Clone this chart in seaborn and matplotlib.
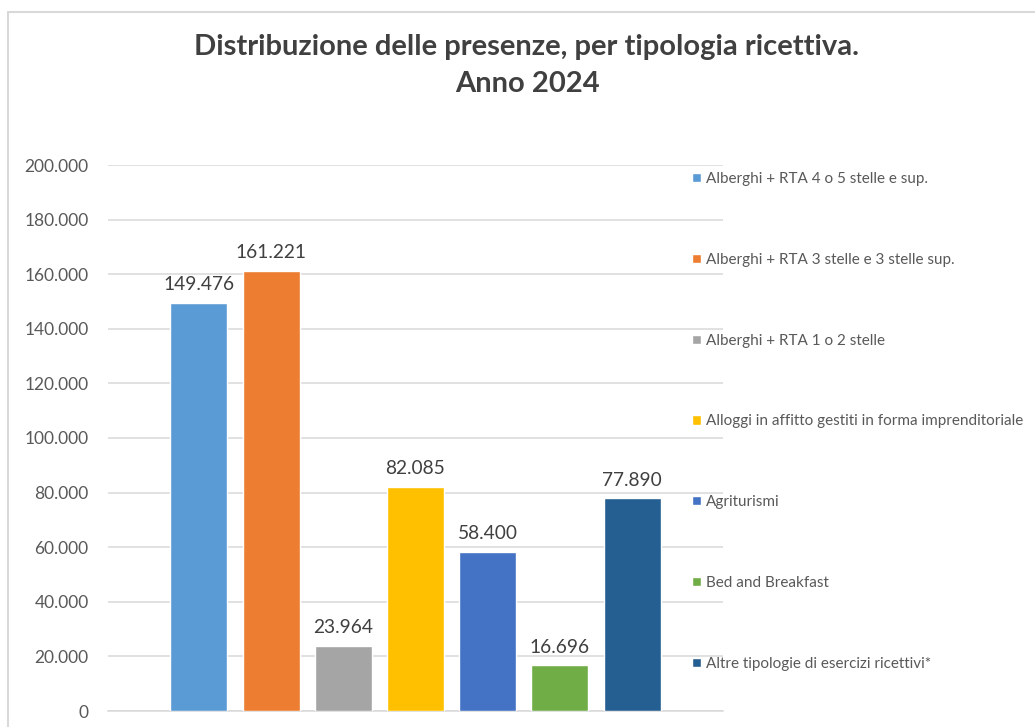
import matplotlib
matplotlib.use("Agg")
import matplotlib.pyplot as plt
from matplotlib.patches import Rectangle
import pandas as pd
import seaborn as sns

# dati
tipologie = [
    "Alberghi + RTA 4 o 5 stelle e sup.",
    "Alberghi + RTA 3 stelle e 3 stelle sup.",
    "Alberghi + RTA 1 o 2 stelle",
    "Alloggi in affitto gestiti in forma imprenditoriale",
    "Agriturismi",
    "Bed and Breakfast",
    "Altre tipologie di esercizi ricettivi*",
]
presenze = [149476, 161221, 23964, 82085, 58400, 16696, 77890]
colori = ["#5B9BD5", "#ED7D31", "#A5A5A5", "#FFC000", "#4472C4", "#70AD47", "#255E91"]
y_ticks = [0, 20000, 40000, 60000, 80000, 100000, 120000, 140000, 160000, 180000, 200000]


def fmt_it(v):
    return f"{v:,.0f}".replace(",", ".")


sns.set_style("white")
plt.rcParams["font.family"] = ["Lato", "DejaVu Sans"]

df = pd.DataFrame({"tipologia": tipologie, "presenze": presenze})

fig = plt.figure(figsize=(10.35, 7.27), dpi=100)
W, H = 1035, 727
ax = fig.add_axes([108 / W, 1 - 711 / H, (723 - 108) / W, (711 - 165) / H])

sns.barplot(data=df, x="tipologia", y="presenze", hue="tipologia",
            palette=colori, width=0.79, saturation=1, legend=True, ax=ax, zorder=3)

ax.set_ylim(0, 200000)
ax.set_xlim(3 - 307.5 / 72.2, 3 + 307.5 / 72.2)
ax.set_yticks(y_ticks)
ax.set_yticklabels([fmt_it(t) for t in y_ticks], color="#595959", fontsize=12.5)
ax.set_xticks([])
ax.set_xlabel("")
ax.set_ylabel("")
ax.tick_params(axis="y", length=0, pad=14)
ax.grid(axis="y", color="#d9d9d9", linewidth=1.1, zorder=0)
for s in ["top", "right", "left"]:
    ax.spines[s].set_visible(False)
ax.spines["bottom"].set_color("#d9d9d9")
ax.spines["bottom"].set_linewidth(1.1)

for i, v in enumerate(presenze):
    ax.annotate(fmt_it(v), (i, v), xytext=(0, 7), textcoords="offset points",
                ha="center", va="bottom", fontsize=13.8, color="#404040", zorder=2)

leg = ax.legend(loc="upper left", bbox_to_anchor=(686 / W, 1 - 166 / H),
                bbox_transform=fig.transFigure, frameon=False, fontsize=11,
                handlelength=0.55, handleheight=0.55, handletextpad=0.35,
                labelspacing=4.37, borderaxespad=0)
for t in leg.get_texts():
    t.set_color("#595959")

fig.text(527 / W, 1 - 47 / H, "Distribuzione delle presenze, per tipologia ricettiva.",
         ha="center", va="center", fontsize=21, fontweight="bold", color="#404040")
fig.text(527 / W, 1 - 84 / H, "Anno 2024",
         ha="center", va="center", fontsize=21, fontweight="bold", color="#404040")

fig.add_artist(Rectangle((8 / W, -0.2), 1.2, 1.2 + (1 - 12 / H) - 1.0,
                         transform=fig.transFigure, fill=False,
                         edgecolor="#d9d9d9", linewidth=1.5))

fig.savefig("out.png", dpi=100)
